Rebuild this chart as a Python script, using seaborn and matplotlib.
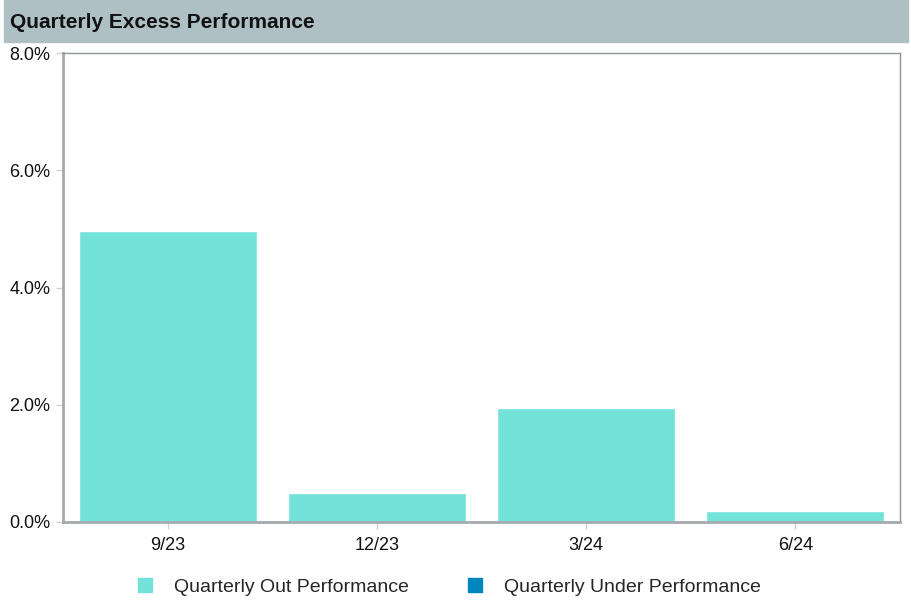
import pandas as pd
import seaborn as sns
import matplotlib.pyplot as plt
from matplotlib.lines import Line2D
from matplotlib.patches import Rectangle
from matplotlib.ticker import FuncFormatter

# quarterly excess performance (%)
quarters = ["9/23", "12/23", "3/24", "6/24"]
excess = [4.97, 0.49, 1.95, 0.19]
series_names = ["Quarterly Out Performance", "Quarterly Under Performance"]
series_colors = ["#73E2D9", "#0086BF"]

df = pd.DataFrame({"quarter": quarters, "excess": excess})

sns.set_style("white")
plt.rcParams['font.family'] = ['Liberation Sans', 'DejaVu Sans']

fig = plt.figure(figsize=(9.11, 6.05), dpi=100)
ax = fig.add_axes([63 / 911, 1 - 522 / 605, (900 - 63) / 911, (522 - 53) / 605])

sns.barplot(df, x="quarter", y="excess", color=series_colors[0], saturation=1,
            width=0.85, ax=ax)

ax.set_ylim(0, 8)
ax.set_xlim(-0.5, len(quarters) - 0.5)
ax.set_yticks([0, 2, 4, 6, 8])
ax.yaxis.set_major_formatter(FuncFormatter(lambda v, p: f"{v:.1f}%"))
ax.set_xlabel("")
ax.set_ylabel("")
ax.tick_params(axis="both", labelsize=13, colors="#D0D0D0", labelcolor="#111111",
               length=5, width=1, direction="out")
ax.tick_params(axis="x", pad=6)
ax.tick_params(axis="y", pad=4)
ax.yaxis.set_ticks_position("left")
ax.xaxis.set_ticks_position("bottom")

for side in ["left", "bottom"]:
    ax.spines[side].set_color("#A3AAB0")
    ax.spines[side].set_linewidth(2)
for side in ["top", "right"]:
    ax.spines[side].set_color("#8E969C")
    ax.spines[side].set_linewidth(1)
    ax.spines[side].set_visible(True)

# title band
fig.patches.append(Rectangle((4 / 911, 1 - 42 / 605), 904 / 911, 42 / 605,
                             transform=fig.transFigure, color="#AFC0C4", zorder=0))
fig.text(10 / 911, 1 - 22 / 605, "Quarterly Excess Performance", fontsize=15,
         fontweight="bold", va="center", ha="left", color="#111111")

handles = [Line2D([], [], marker="s", linestyle="", markersize=10,
                  markerfacecolor=c, markeredgecolor=c) for c in series_colors]
fig.legend(handles, series_names, loc="center", bbox_to_anchor=(443 / 911, 1 - 587 / 605),
           ncol=2, frameon=False, fontsize=14, handlelength=2.0, handletextpad=0.5,
           columnspacing=2.4)

plt.savefig("out.png", format="png")
